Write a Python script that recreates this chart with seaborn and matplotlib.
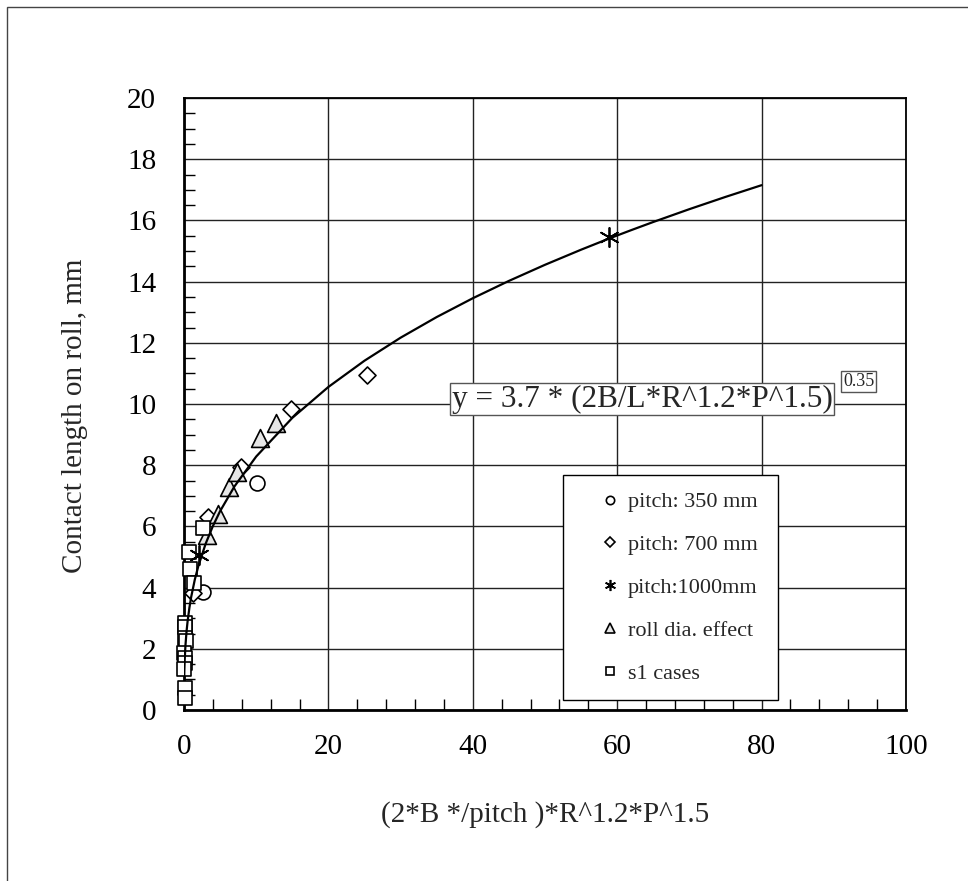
import numpy as np
import pandas as pd
import matplotlib
matplotlib.use("Agg")
import matplotlib.pyplot as plt
from matplotlib.ticker import MultipleLocator
from matplotlib.lines import Line2D
from matplotlib.patches import Rectangle
import seaborn as sns

# Measured contact lengths (x = (2*B*/pitch)*R^1.2*P^1.5, y = contact length, mm)
pitch350_x = [2.7, 10.1]
pitch350_y = [3.85, 7.42]

pitch700_x = [1.2, 3.37, 7.9, 14.8, 25.3]
pitch700_y = [3.83, 6.32, 7.94, 9.85, 10.95]

pitch1000_x = [2.1, 58.9]
pitch1000_y = [5.07, 15.45]

rolldia_x = [3.14, 4.67, 6.3, 7.3, 10.5, 12.7]
rolldia_y = [5.72, 6.42, 7.3, 7.78, 8.88, 9.39]

s1_x = [0.73, 0.83, 1.43, 2.6, 0.15, 0.2, 0.1, 0.25, 0.05, 0.1, 0.15, 0.05, 0.1, 0.1]
s1_y = [5.17, 4.6, 4.16, 5.96, 2.83, 2.7, 2.34, 2.25, 1.85, 1.7, 1.55, 1.35, 0.71, 0.38]

# Power-law fit y = 3.7 * x^0.35
fit_coef = 3.7
fit_exp = 0.35
fit_x = [0.03, 0.05, 0.1, 0.2, 0.35, 0.5, 0.75, 1, 1.5, 2, 3, 4, 5, 7, 10,
         15, 20, 25, 30, 35, 40, 45, 50, 55, 58, 60, 62, 65, 70, 75, 80]

series_labels = ["pitch: 350 mm", "pitch: 700 mm", "pitch:1000mm",
                 "roll dia. effect", "s1 cases"]

x_ticks = [0, 20, 40, 60, 80, 100]
y_ticks = list(range(0, 21, 2))

sns.set_style("white")
plt.rcParams["font.family"] = ["Liberation Serif", "DejaVu Serif"]

fig = plt.figure(figsize=(9.68, 8.81), dpi=100)
ax = fig.add_axes([184 / 968, 1 - 710 / 881, 722 / 968, 612 / 881])

# outer frame line (top and left visible)
fig.patches.append(Rectangle((7 / 968, -0.1), 1.2, 1 - 7 / 881 + 0.1,
                             transform=fig.transFigure, fill=False,
                             edgecolor="#444444", linewidth=1.0))

fit_df = pd.DataFrame({"x": fit_x,
                       "y": [fit_coef * v ** fit_exp for v in fit_x]})
sns.lineplot(data=fit_df, x="x", y="y", ax=ax, color="black", linewidth=1.6,
             sort=False, zorder=5)

star = (6, 2, 0)
common = dict(edgecolor="black", linewidth=1.2, zorder=4, legend=False,
              clip_on=False)
sns.scatterplot(x=pitch350_x, y=pitch350_y, ax=ax, marker="o", s=115,
                facecolor="white", **common)
sns.scatterplot(x=pitch700_x, y=pitch700_y, ax=ax, marker="D", s=75,
                facecolor="white", **common)
sns.scatterplot(x=rolldia_x, y=rolldia_y, ax=ax, marker="^", s=165,
                facecolor="#e6e6e6", **common)
sns.scatterplot(x=s1_x, y=s1_y, ax=ax, marker="s", s=110,
                facecolor="white", **common)
sns.scatterplot(x=pitch1000_x, y=pitch1000_y, ax=ax, marker=star, s=190,
                color="black", linewidth=1.3, zorder=4, legend=False)

ax.set_xlim(0, 100)
ax.set_ylim(0, 20)
ax.set_xticks(x_ticks)
ax.set_yticks(y_ticks)
ax.xaxis.set_minor_locator(MultipleLocator(4))
ax.yaxis.set_minor_locator(MultipleLocator(0.5))
ax.tick_params(axis="both", which="both", bottom=True, left=True,
               top=False, right=False)
ax.tick_params(axis="both", which="major", direction="in", length=0,
               labelsize=21, colors="black")
ax.tick_params(axis="x", which="major", pad=17)
ax.tick_params(axis="y", which="major", pad=20)
ax.tick_params(axis="both", which="minor", direction="in", length=8,
               width=1.0, color="black")
ax.grid(True, which="major", color="#222222", linewidth=1.0)
ax.set_axisbelow(True)
for name, sp in ax.spines.items():
    sp.set_color("black")
    sp.set_linewidth(1.3)
ax.spines["left"].set_linewidth(2.0)
ax.spines["bottom"].set_linewidth(2.0)

ax.set_xlabel("(2*B */pitch )*R^1.2*P^1.5", fontsize=21)
ax.set_ylabel("Contact length on roll, mm", fontsize=21)
ax.xaxis.set_label_coords(0.5, -0.148)
ax.yaxis.set_label_coords(-0.133, 0.48)

# fitted equation annotation
ax.text(0.371, 0.508, "y = 3.7 * (2B/L*R^1.2*P^1.5)", transform=ax.transAxes,
        fontsize=22.5, ha="left", va="center", zorder=6,
        bbox=dict(boxstyle="square,pad=0.05", facecolor="white",
                  edgecolor="#555555", linewidth=1.0))
ax.text(0.913, 0.537, "0.35", transform=ax.transAxes, fontsize=13,
        ha="left", va="center", zorder=6,
        bbox=dict(boxstyle="square,pad=0.1", facecolor="white",
                  edgecolor="#555555", linewidth=1.0))

handles = [
    Line2D([], [], marker="o", linestyle="none", markersize=6,
           markerfacecolor="white", markeredgecolor="black", markeredgewidth=1.2),
    Line2D([], [], marker="D", linestyle="none", markersize=5,
           markerfacecolor="white", markeredgecolor="black", markeredgewidth=1.2),
    Line2D([], [], marker=star, linestyle="none", markersize=8,
           color="black", markeredgewidth=1.2),
    Line2D([], [], marker="^", linestyle="none", markersize=7,
           markerfacecolor="#e6e6e6", markeredgecolor="black", markeredgewidth=1.2),
    Line2D([], [], marker="s", linestyle="none", markersize=6,
           markerfacecolor="white", markeredgecolor="black", markeredgewidth=1.2),
]
leg = ax.legend(handles, series_labels, loc="lower left",
                bbox_to_anchor=(0.525, 0.016, 0.298, 0.3), mode="expand",
                fontsize=16, frameon=True,
                fancybox=False, shadow=False, framealpha=1,
                edgecolor="black", borderpad=0.75, labelspacing=1.0,
                handlelength=2.7, handletextpad=-0.52, borderaxespad=0)
leg.get_frame().set_linewidth(1.0)
leg.set_zorder(7)

fig.savefig("out.png", dpi=100)
